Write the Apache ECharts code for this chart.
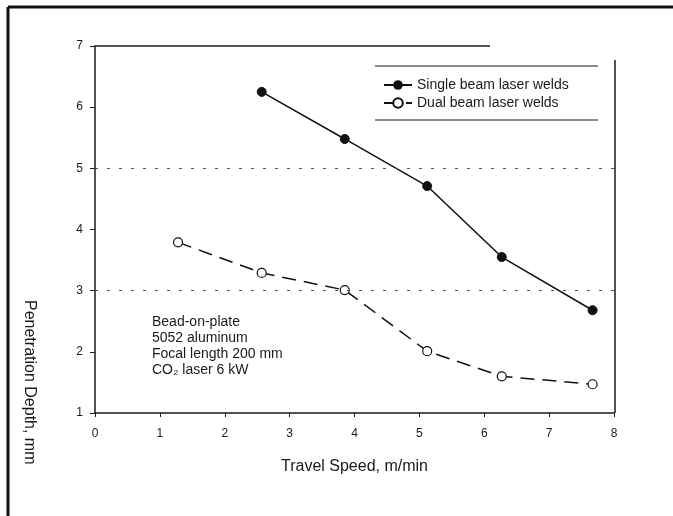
<!DOCTYPE html>
<html>
<head>
<meta charset="utf-8">
<script src="https://cdn.jsdelivr.net/npm/echarts@6/dist/echarts.min.js"></script>
<style>
  html, body { margin: 0; padding: 0; background: #fff; }
  #chart { width: 673px; height: 516px; }
</style>
</head>
<body>
<div id="chart"></div>
<script>
// travel speed (m/min) and penetration depth (mm)
var singleSpeed = [2.57, 3.85, 5.12, 6.27, 7.67];
var singleDepth = [6.25, 5.48, 4.71, 3.55, 2.68];
var dualSpeed = [1.28, 2.57, 3.85, 5.12, 6.27, 7.67];
var dualDepth = [3.79, 3.29, 3.01, 2.01, 1.60, 1.47];
var seriesNames = ['Single beam laser welds', 'Dual beam laser welds'];
var noteLines = ['Bead-on-plate', '5052 aluminum', 'Focal length 200 mm', 'CO\u2082 laser 6 kW'];

function pairs(xs, ys) {
    return xs.map(function (x, i) { return [x, ys[i]]; });
}

var font = 'Liberation Sans, Arial, sans-serif';
var ink = '#1a1a1a';

var myChart = echarts.init(document.getElementById('chart'));
var option = {
    backgroundColor: '#fff',
    animation: false,
    textStyle: { fontFamily: font, color: ink },
    grid: { left: 95, right: 59, top: 46, bottom: 103 },
    legend: {
        left: 378,
        top: 73,
        orient: 'vertical',
        itemGap: 4,
        itemWidth: 28,
        itemHeight: 12,
        textStyle: { fontSize: 14, color: ink, fontFamily: font },
        data: seriesNames
    },
    xAxis: {
        type: 'value',
        min: 0,
        max: 8,
        interval: 1,
        name: 'Travel Speed, m/min',
        nameLocation: 'middle',
        nameGap: 46,
        nameTextStyle: { fontSize: 16, color: ink },
        axisLine: { onZero: false, lineStyle: { color: ink, width: 1.5 } },
        axisTick: { length: 4, lineStyle: { color: ink } },
        axisLabel: { fontSize: 12, color: ink, margin: 15 },
        splitLine: { show: false }
    },
    yAxis: {
        type: 'value',
        min: 1,
        max: 7,
        interval: 1,
        axisLine: { show: true, lineStyle: { color: ink, width: 1.5 } },
        axisTick: { show: true, length: 5, lineStyle: { color: ink } },
        axisLabel: { fontSize: 12, color: ink, margin: 12 },
        splitLine: { show: false }
    },
    graphic: [
        // outer frame of the scanned figure (top and left only)
        { type: 'line', shape: { x1: 8, y1: 7, x2: 673, y2: 7 }, style: { stroke: '#111', lineWidth: 3 } },
        { type: 'line', shape: { x1: 8, y1: 7, x2: 8, y2: 516 }, style: { stroke: '#111', lineWidth: 3 } },
        // plot box top and right
        { type: 'line', shape: { x1: 95, y1: 46, x2: 490, y2: 46 }, style: { stroke: ink, lineWidth: 1.5 } },
        { type: 'line', shape: { x1: 615, y1: 60, x2: 615, y2: 413 }, style: { stroke: ink, lineWidth: 1.5 } },
        // legend box top and bottom rules
        { type: 'line', shape: { x1: 375, y1: 66, x2: 598, y2: 66 }, style: { stroke: ink, lineWidth: 1.2 } },
        { type: 'line', shape: { x1: 375, y1: 120, x2: 598, y2: 120 }, style: { stroke: ink, lineWidth: 1.2 } },
        {
            type: 'text',
            left: 152,
            top: 314,
            style: {
                text: noteLines.join('\n'),
                font: '14px ' + font,
                lineHeight: 16,
                fill: ink
            }
        },
        {
            type: 'text',
            x: 37,
            y: 300,
            rotation: -Math.PI / 2,
            style: {
                text: 'Penetration Depth, mm',
                font: '16px ' + font,
                fill: ink
            }
        }
    ],
    series: [
        {
            name: seriesNames[0],
            type: 'line',
            symbol: 'circle',
            symbolSize: 9,
            itemStyle: { color: '#111', borderColor: '#111' },
            lineStyle: { color: '#111', width: 1.5 },
            data: pairs(singleSpeed, singleDepth),
            markLine: {
                silent: true,
                symbol: 'none',
                label: { show: false },
                lineStyle: { color: '#555', type: [3, 9], width: 1 },
                data: [{ yAxis: 5 }, { yAxis: 3 }]
            }
        },
        {
            name: seriesNames[1],
            type: 'line',
            symbol: 'circle',
            symbolSize: 9,
            itemStyle: { color: '#fff', borderColor: '#111', borderWidth: 1.2 },
            lineStyle: { color: '#111', width: 1.5, type: [14, 8] },
            data: pairs(dualSpeed, dualDepth)
        }
    ]
};
myChart.setOption(option);
window.addEventListener('resize', function () {
    myChart.resize();
});
</script>
</body>
</html>
